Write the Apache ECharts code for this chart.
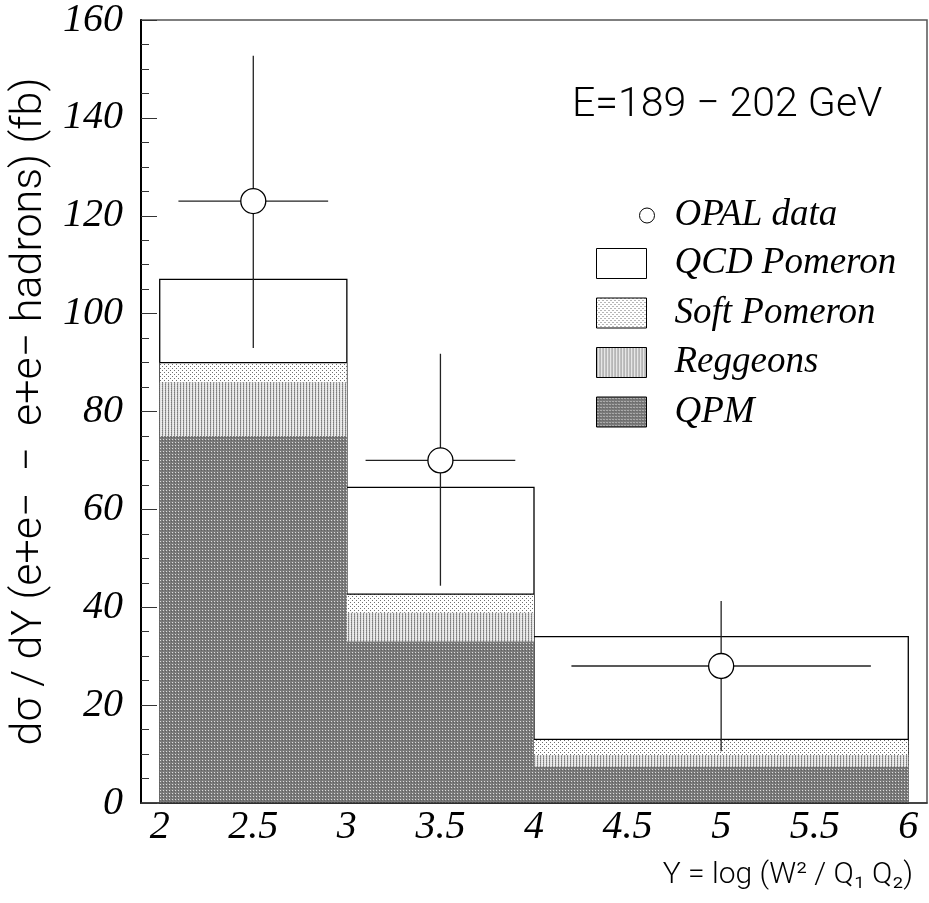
<!DOCTYPE html>
<html>
<head>
<meta charset="utf-8">
<script src="https://cdn.jsdelivr.net/npm/echarts@6/dist/echarts.min.js"></script>
<style>html,body{margin:0;padding:0;background:#fff}#main{width:929px;height:903px}</style>
</head>
<body>
<div id="main"></div>
<script>
// bin edges in Y
var binLo = [2, 3, 4];
var binHi = [3, 4, 6];
// stacked (cumulative) predictions, fb
var qcdPomeron = [107, 64.5, 34];
var softPomeron = [90, 42.7, 13];
var reggeons = [86, 38.9, 9.8];
var qpm = [75, 33, 7.4];
// OPAL data points with errors
var dataX = [2.5, 3.5, 5];
var dataY = [123, 70, 28];
var dataXLo = [2.1, 3.1, 4.2];
var dataXHi = [2.9, 3.9, 5.8];
var dataYLo = [93, 44.4, 10.6];
var dataYHi = [152.7, 91.8, 41.3];
var xTicks = [2, 2.5, 3, 3.5, 4, 4.5, 5, 5.5, 6];

var myChart = echarts.init(document.getElementById('main'));

function makePattern(w, h, base, dots) {
  var c = document.createElement('canvas');
  c.width = w;
  c.height = h;
  var ctx = c.getContext('2d');
  ctx.fillStyle = base;
  ctx.fillRect(0, 0, w, h);
  dots.forEach(function (d) {
    ctx.fillStyle = d[2];
    ctx.fillRect(d[0], d[1], 1, 1);
  });
  return {image: c, repeat: 'repeat'};
}

var fillQpm = makePattern(3, 3, '#7a7a7a', [[1, 1, '#dcdcdc'], [0, 2, '#606060']]);
var fillRegg = makePattern(3, 2, '#e2e2e2', [[0, 0, '#7c7c7c'], [0, 1, '#9a9a9a'], [2, 1, '#f2f2f2']]);
var fillSoft = makePattern(4, 4, '#ffffff', [[0, 0, '#707070'], [2, 2, '#707070']]);

function histSeries(name, vals, fill, edge, z) {
  return {
    name: name,
    type: 'custom',
    z: z,
    itemStyle: {color: fill, borderColor: '#000', borderWidth: 1},
    encode: {x: [0, 1], y: 2},
    data: binLo.map(function (lo, i) { return [lo, binHi[i], vals[i]]; }),
    renderItem: function (params, api) {
      var a = api.coord([api.value(0), api.value(2)]);
      var b = api.coord([api.value(1), 0]);
      var rect = {
        type: 'rect',
        shape: {x: a[0], y: a[1], width: b[0] - a[0], height: b[1] - a[1]},
        style: {fill: fill, stroke: edge == 'box' ? '#000' : null, lineWidth: 1.3}
      };
      if (edge != 'top') return rect;
      return {type: 'group', children: [rect, {
        type: 'line',
        shape: {x1: a[0], y1: a[1], x2: b[0], y2: a[1]},
        style: {stroke: '#000', lineWidth: 1.2}
      }]};
    }
  };
}

var serif = {fontFamily: 'Liberation Serif', fontStyle: 'italic', color: '#000'};

option = {
  animation: false,
  backgroundColor: '#fff',
  title: {
    text: 'E=189 − 202 GeV',
    left: 572,
    top: 85,
    padding: 0,
    textStyle: {fontFamily: 'Roboto', fontWeight: 300, fontSize: 41, color: '#000'}
  },
  legend: [{
    data: ['OPAL data'],
    icon: 'circle',
    left: 639,
    top: 197,
    padding: 0,
    itemWidth: 15,
    itemHeight: 15,
    itemStyle: {borderColor: '#000', borderWidth: 1},
    textStyle: Object.assign({fontSize: 37, lineHeight: 15, padding: [0, 0, 0, 15]}, serif)
  }, {
    data: ['QCD Pomeron', 'Soft Pomeron', 'Reggeons', 'QPM'],
    orient: 'vertical',
    icon: 'rect',
    left: 596,
    top: 245,
    padding: 0,
    itemGap: 12.5,
    itemWidth: 50,
    itemHeight: 30,
    itemStyle: {borderColor: '#000', borderWidth: 1},
    textStyle: Object.assign({fontSize: 37, lineHeight: 30, padding: [0, 0, 0, 23]}, serif)
  }],
  grid: {
    left: 141, right: 2, top: 17, bottom: 100,
    show: true, borderColor: '#555', borderWidth: 1.5
  },
  xAxis: [{
    type: 'value',
    min: 1.9,
    max: 6.1,
    z: 10,
    axisLine: {lineStyle: {color: '#333', width: 1.5}},
    axisTick: {show: false},
    splitLine: {show: false},
    axisLabel: Object.assign({customValues: xTicks, fontSize: 40, margin: 4}, serif),
    name: 'Y = log (W² / Q₁ Q₂)',
    nameLocation: 'end',
    nameGap: -14,
    nameTextStyle: {fontFamily: 'Roboto', fontWeight: 300, fontSize: 30, color: '#000',
      align: 'right', verticalAlign: 'top', padding: [57, 0, 0, 0]}
  }],
  yAxis: [{
    type: 'value',
    min: 0,
    max: 160,
    interval: 20,
    z: 10,
    axisLine: {lineStyle: {color: '#000', width: 2}},
    axisTick: {inside: true, length: 16, lineStyle: {color: '#333'}},
    minorTick: {show: true, splitNumber: 4, length: 8, lineStyle: {color: '#333'}},
    splitLine: {show: false},
    axisLabel: Object.assign({fontSize: 40, margin: 18}, serif),
    name: 'dσ / dY (e+e−  −  e+e− hadrons) (fb)',
    nameLocation: 'middle',
    nameRotate: 90,
    nameGap: 83,
    nameTextStyle: {fontFamily: 'Roboto', fontWeight: 300, fontSize: 43, color: '#000'}
  }],
  series: [
    histSeries('QCD Pomeron', qcdPomeron, '#ffffff', 'box', 1),
    histSeries('Soft Pomeron', softPomeron, fillSoft, 'top', 2),
    histSeries('Reggeons', reggeons, fillRegg, 'none', 3),
    histSeries('QPM', qpm, fillQpm, 'none', 4),
    {
      name: 'errors',
      type: 'custom',
      z: 5,
      encode: {x: [0, 2, 3], y: [1, 4, 5]},
      data: dataX.map(function (x, i) {
        return [x, dataY[i], dataXLo[i], dataXHi[i], dataYLo[i], dataYHi[i]];
      }),
      renderItem: function (params, api) {
        var l = api.coord([api.value(2), api.value(1)]);
        var r = api.coord([api.value(3), api.value(1)]);
        var lo = api.coord([api.value(0), api.value(4)]);
        var hi = api.coord([api.value(0), api.value(5)]);
        var st = {stroke: '#222', lineWidth: 1.3};
        return {type: 'group', children: [
          {type: 'line', shape: {x1: l[0], y1: l[1], x2: r[0], y2: r[1]}, style: st},
          {type: 'line', shape: {x1: lo[0], y1: lo[1], x2: hi[0], y2: hi[1]}, style: st}
        ]};
      }
    },
    {
      name: 'OPAL data',
      type: 'scatter',
      z: 6,
      symbol: 'circle',
      symbolSize: 25,
      itemStyle: {color: '#fff', borderColor: '#000', borderWidth: 1.3, opacity: 1},
      data: dataX.map(function (x, i) { return [x, dataY[i]]; })
    }
  ]
};

myChart.setOption(option);
</script>
</body>
</html>
